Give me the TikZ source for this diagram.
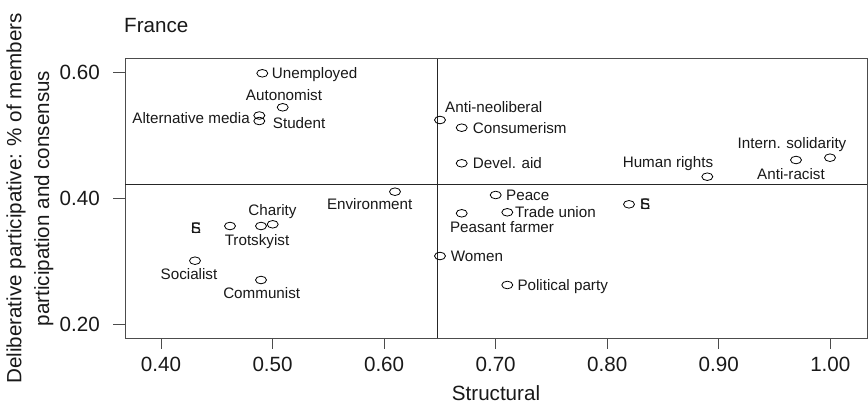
\documentclass[tikz,border=0pt]{standalone}
\usepackage{fontspec}
\setmainfont{Liberation Sans}
\usetikzlibrary{shapes.geometric}
\begin{document}
\begin{tikzpicture}[x=1pt,y=-1pt,
  pt/.style={draw=black, ellipse, minimum width=11pt, minimum height=7.6pt, inner sep=0pt, line width=0.8pt},
  lbl/.style={inner sep=0pt, text height=10.9pt, text depth=0pt, font=\fontsize{15.2}{18}\selectfont, text=black!90},
  axlbl/.style={inner sep=0pt, font=\fontsize{20.6}{24}\selectfont, text=black!90},
  frameline/.style={draw=black!70, line width=1pt},
  guide/.style={draw=black!85, line width=0.9pt},
  tickline/.style={draw=black!70, line width=1pt}]
\fill[white] (0,0) rectangle (868,404);
\useasboundingbox (0,0) rectangle (868,404);
% frame
\coordinate (tl) at (125,59);
\coordinate (br) at (867,338);
\draw[frameline] (tl) rectangle (br);
% guide lines
\coordinate (hl) at (125,184);
\coordinate (hr) at (867,184);
\coordinate (vt) at (437.7,59);
\coordinate (vb) at (437.7,338);
\draw[guide] (hl) -- (hr);
\draw[guide] (vt) -- (vb);
% x ticks
\foreach \v/\t [count=\i] in {0/0.40,1/0.50,2/0.60,3/0.70,4/0.80,5/0.90,6/1.00}{
  \coordinate (xt\i) at ({161+111.55*\v},338);
  \coordinate (xe\i) at ({161+111.55*\v},349);
  \draw[tickline] (xt\i) -- (xe\i);
  \node[axlbl, anchor=base] (xl\i) at ({161+111.55*\v},371) {\t};
}
% y ticks
\foreach \yy/\t [count=\i] in {72.3/0.60,198.2/0.40,324/0.20}{
  \coordinate (yt\i) at (125,\yy);
  \coordinate (ye\i) at (113,\yy);
  \draw[tickline] (yt\i) -- (ye\i);
  \node[axlbl, anchor=base east] (yl\i) at (100,\yy+7.4) {\t};
}
% titles
\node[axlbl, anchor=base west] (title) at (124,33) {France};
\node[axlbl, anchor=base] (xlab) at (496,400) {Structural};
\node[axlbl, anchor=base, rotate=90] (ylab1) at (21.4,198.5) {Deliberative participative: \% of members};
\node[axlbl, anchor=base, rotate=90] (ylab2) at (49,198.5) {participation and consensus};
% points
\node[pt] (un) at (262.3,73.3) {};
\node[pt] (au) at (282.7,107.3) {};
\node[pt] (am) at (259.3,115.5) {};
\node[pt] (st) at (259.3,121) {};
\node[pt] (an) at (440,120) {};
\node[pt] (co) at (461.7,127.7) {};
\node[pt] (da) at (461.7,163.3) {};
\node[pt] (hr) at (707.3,176.7) {};
\node[pt] (is) at (830,157.7) {};
\node[pt] (ar) at (796,160) {};
\node[pt] (en) at (395,191.7) {};
\node[pt] (ea) at (230,226) {};
\node[pt] (ch) at (261,226) {};
\node[pt] (tr) at (272.7,224.3) {};
\node[pt] (so) at (195,260.7) {};
\node[pt] (cm) at (261,280) {};
\node[pt] (wo) at (440,256) {};
\node[pt] (pe) at (495.7,195) {};
\node[pt] (eb) at (629,204.3) {};
\node[pt] (pf) at (461.7,213.3) {};
\node[pt] (tu) at (507.3,212.3) {};
\node[pt] (pp) at (507.3,285) {};
% labels
\node[lbl, anchor=west] (unl) at (271.7,73.3) {Unemployed};
\node[lbl] (aul) at (284,95) {Autonomist};
\node[lbl, anchor=east] (aml) at (250,118.3) {Alternative media};
\node[lbl, anchor=west] (stl) at (272.7,122.7) {Student};
\node[lbl, anchor=west] (anl) at (445,106.7) {Anti-neoliberal};
\node[lbl, anchor=west] (col) at (472.7,127.7) {Consumerism};
\node[lbl, anchor=west] (dal) at (472.7,163.3) {Devel. aid};
\node[lbl] (hrl) at (668,162.3) {Human rights};
\node[lbl] (isl) at (792,142.7) {Intern. solidarity};
\node[lbl] (arl) at (791,174.3) {Anti-racist};
\node[lbl] (enl) at (369.7,204.3) {Environment};
\node[lbl] (eal) at (196,228.3) {\rlap{E}S};
\node[lbl] (chl) at (272.5,210) {Charity};
\node[lbl] (trl) at (257,240) {Trotskyist};
\node[lbl] (sol) at (189,274) {Socialist};
\node[lbl] (cml) at (261.7,292.7) {Communist};
\node[lbl, anchor=west] (wol) at (450.7,256) {Women};
\node[lbl, anchor=west] (pel) at (506,195) {Peace};
\node[lbl, anchor=west] (ebl) at (640,204.3) {\rlap{E}S};
\node[lbl] (pfl) at (502,226.7) {Peasant farmer};
\node[lbl, anchor=west] (tul) at (515,212.3) {Trade union};
\node[lbl, anchor=west] (ppl) at (517.3,285) {Political party};
\end{tikzpicture}
\end{document}
